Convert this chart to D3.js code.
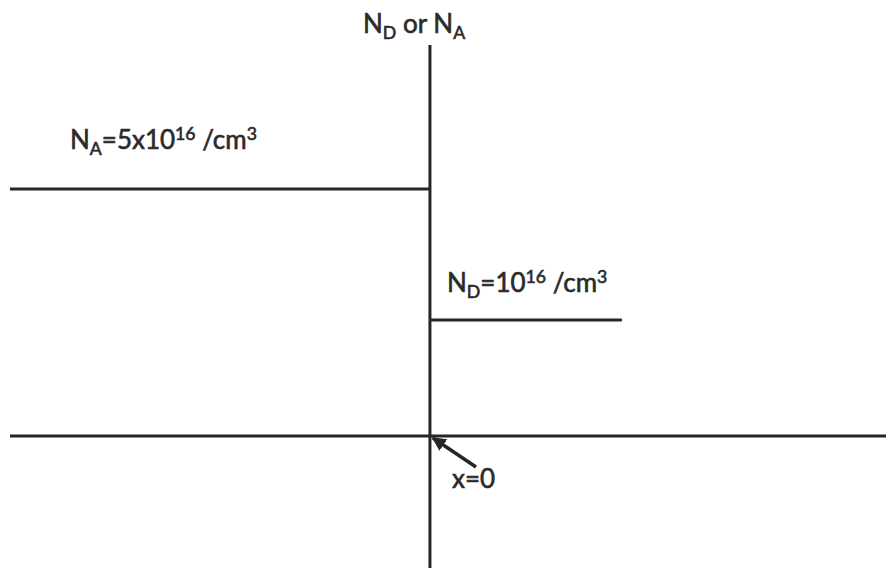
<!DOCTYPE html>
<html><head><meta charset="utf-8">
<script src="https://cdn.jsdelivr.net/npm/d3@7"></script>
<style>
html,body{margin:0;padding:0;background:#fff;}
svg{display:block;}
text{font-family:Lato, "Open Sans", sans-serif; fill:#2a2a2a; stroke:#2a2a2a; stroke-width:0.6px;}
</style></head>
<body>
<svg id="chart" width="886" height="569"></svg>
<script>
// ---- data (schematic doping profile, units of 1e16 /cm^3) ----
const regions = ["p-side", "n-side"];
const regionStart = [-1, 0];          // position (arbitrary units), junction at x = 0
const regionEnd = [0, 0.457];
const dopingValues = [5, 1];          // N_A = 5e16, N_D = 1e16
const dopingLabels = [
  [{t:"N"},{t:"A",sub:true},{t:"=5x10"},{t:"16",sup:true},{t:" /cm"},{t:"3",sup:true}],
  [{t:"N"},{t:"D",sub:true},{t:"=10"},{t:"16",sup:true},{t:" /cm"},{t:"3",sup:true}]
];
const axisTitle = [{t:"N"},{t:"D",sub:true},{t:" or "},{t:"N"},{t:"A",sub:true}];
const junctionLabel = "x=0";
const xAxisDomain = [-1, 1.086];

const svg = d3.select("#chart");
const ink = "#262626";

const x = d3.scaleLinear().domain(xAxisDomain).range([10, 886]);
// schematic (non-proportional) vertical scale
const y = d3.scaleLinear().domain([0, 1, 5]).range([436, 320, 189]);

// horizontal axis
svg.append("line").attr("x1", x(xAxisDomain[0])).attr("x2", x(xAxisDomain[1]))
  .attr("y1", y(0)).attr("y2", y(0)).attr("stroke", ink).attr("stroke-width", 3);
// vertical axis
svg.append("line").attr("x1", x(0)).attr("x2", x(0))
  .attr("y1", 45).attr("y2", 568).attr("stroke", ink).attr("stroke-width", 3);

// doping levels
svg.selectAll("line.level").data(regions).join("line").attr("class","level")
  .attr("x1", (d,i) => x(regionStart[i]))
  .attr("x2", (d,i) => x(regionEnd[i]))
  .attr("y1", (d,i) => y(dopingValues[i]))
  .attr("y2", (d,i) => y(dopingValues[i]))
  .attr("stroke", ink).attr("stroke-width", 3);

function rich(parent, parts, fs, px, py) {
  const t = parent.append("text").attr("x", px).attr("y", py).attr("font-size", fs);
  let cur = 0;
  parts.forEach(p => {
    const s = t.append("tspan").text(p.t);
    const target = p.sub ? fs*0.24 : p.sup ? -fs*0.36 : 0;
    if (p.sub || p.sup) s.attr("font-size", fs*0.68);
    s.attr("dy", target - cur);
    cur = target;
  });
  return t;
}

const fs = 26;
// axis title
rich(svg, axisTitle, fs, 363, 33);
// level labels
const labelPos = [[70, 149], [447, 292]];
dopingLabels.forEach((parts, i) => rich(svg, parts, fs, labelPos[i][0], labelPos[i][1]));

// junction label + arrow
svg.append("defs").append("marker").attr("id","ah").attr("viewBox","0 0 10 10")
  .attr("refX", 9).attr("refY", 5).attr("markerWidth", 4).attr("markerHeight", 4)
  .attr("orient","auto").append("path").attr("d","M0,0 L10,5 L0,10 z").attr("fill", ink);
svg.append("line").attr("x1", 476).attr("y1", 467).attr("x2", x(0)+3).attr("y2", y(0)+2)
  .attr("stroke", ink).attr("stroke-width", 3.5).attr("marker-end","url(#ah)");
svg.append("text").attr("x", 452).attr("y", 488).attr("font-size", fs).text(junctionLabel);
</script>
</body></html>
